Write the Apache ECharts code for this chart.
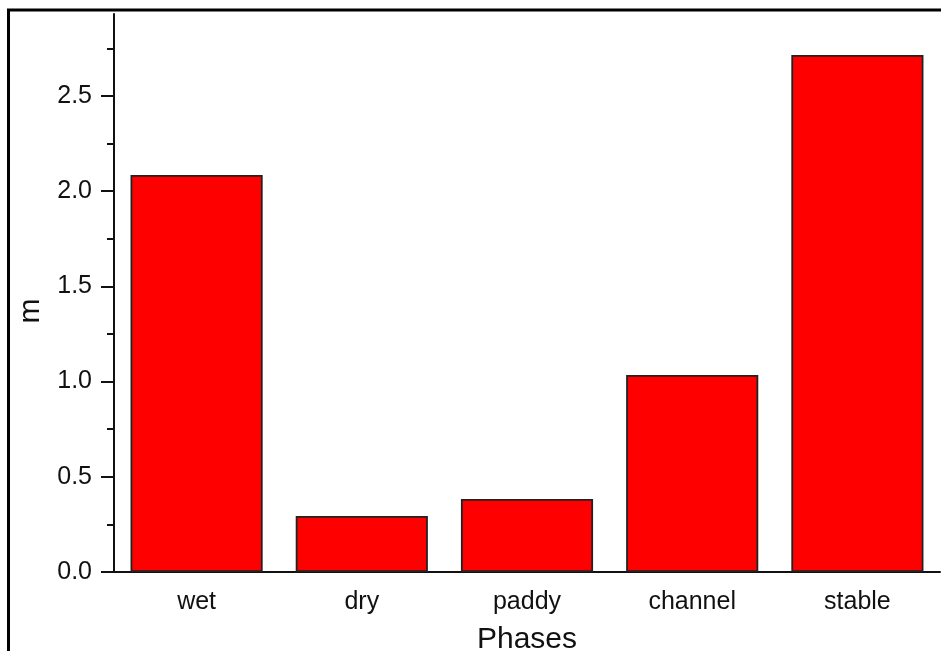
<!DOCTYPE html>
<html>
<head>
<meta charset="utf-8">
<script src="https://cdn.jsdelivr.net/npm/echarts@6/dist/echarts.min.js"></script>
<style>
  html, body { margin: 0; padding: 0; background: #fff; }
  #chart { width: 941px; height: 651px; }
</style>
</head>
<body>
<div id="chart"></div>
<script>
// data
const phases = ['wet', 'dry', 'paddy', 'channel', 'stable']
const mValues = [2.085, 0.294, 0.383, 1.035, 2.715]
const majorTicks = [0, 0.5, 1.0, 1.5, 2.0, 2.5]
const minorTicks = [0.25, 0.75, 1.25, 1.75, 2.25, 2.75]

const font = 'Liberation Sans, Arial, sans-serif'
const ink = '#111'

const chart = echarts.init(document.getElementById('chart'), null, { renderer: 'canvas' })

const option = {
  animation: false,
  backgroundColor: '#fff',
  grid: { left: 114, right: 1, top: 14, bottom: 79, outerBoundsMode: 'none', containLabel: false },
  graphic: [
    // outer frame, cut off on the right and bottom
    { type: 'rect', shape: { x: 8.5, y: 10, width: 1000, height: 1000 },
      style: { fill: 'none', stroke: '#000', lineWidth: 3 }, silent: true }
  ],
  xAxis: [
    {
      type: 'category',
      data: phases,
      name: 'Phases',
      nameLocation: 'middle',
      nameGap: 53,
      nameTextStyle: { fontFamily: font, fontSize: 30, color: ink },
      axisLine: { lineStyle: { color: ink, width: 2 } },
      axisTick: { alignWithLabel: true, length: 10, lineStyle: { color: ink, width: 2 } },
      axisLabel: { fontFamily: font, fontSize: 25, color: ink, margin: 18 }
    },
    {
      // short ticks on category boundaries
      type: 'category',
      data: phases,
      position: 'bottom',
      axisLine: { show: false },
      axisTick: { length: 7, lineStyle: { color: ink, width: 2 } },
      axisLabel: { show: false }
    }
  ],
  yAxis: [
    {
      type: 'value',
      min: 0,
      max: 2.93,
      name: 'm',
      nameLocation: 'middle',
      nameGap: 68,
      nameRotate: 90,
      nameTextStyle: { fontFamily: font, fontSize: 30, color: ink, padding: [0, 36, 0, 0] },
      splitLine: { show: false },
      axisLine: { show: true, lineStyle: { color: ink, width: 2 } },
      axisTick: { show: true, length: 13, customValues: majorTicks, lineStyle: { color: ink, width: 2 } },
      axisLabel: {
        fontFamily: font, fontSize: 25, color: ink, margin: 22,
        customValues: majorTicks,
        formatter: v => v.toFixed(1)
      }
    },
    {
      // minor ticks
      type: 'value',
      min: 0,
      max: 2.93,
      position: 'left',
      splitLine: { show: false },
      axisLine: { show: false },
      axisTick: { show: true, length: 7, customValues: minorTicks, lineStyle: { color: ink, width: 2 } },
      axisLabel: { show: false }
    }
  ],
  series: [
    {
      type: 'bar',
      data: mValues,
      barWidth: '80%',
      itemStyle: { color: '#ff0000', borderColor: '#222', borderWidth: 1.8 }
    }
  ]
}

chart.setOption(option)
</script>
</body>
</html>
